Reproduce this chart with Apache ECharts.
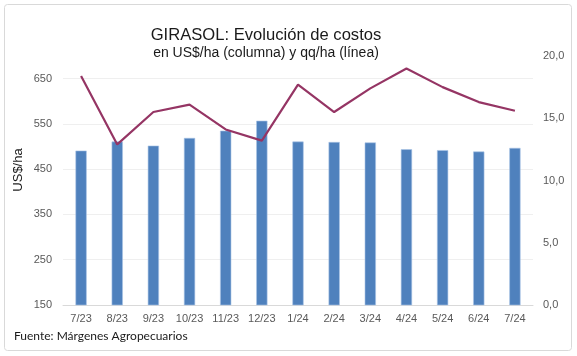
<!DOCTYPE html>
<html>
<head>
<meta charset="utf-8">
<script src="https://cdn.jsdelivr.net/npm/echarts@6/dist/echarts.min.js"></script>
<style>
html,body{margin:0;padding:0;background:#fff;}
#c{width:577px;height:356px;}
</style>
</head>
<body>
<div id="c"></div>
<script>
var categories = ['7/23','8/23','9/23','10/23','11/23','12/23','1/24','2/24','3/24','4/24','5/24','6/24','7/24'];
var costUSD = [491, 511, 502, 519, 535, 557, 511, 510, 509, 494, 492, 489, 497];
var yieldQQ = [18.4, 12.9, 15.5, 16.1, 14.1, 13.2, 17.7, 15.5, 17.4, 19.0, 17.5, 16.3, 15.6];
var leftTicks = [150, 250, 350, 450, 550, 650];

var chart = echarts.init(document.getElementById('c'), null, {renderer: 'canvas'});
var font = 'Liberation Sans, Arial, sans-serif';
chart.setOption({
  animation: false,
  textStyle: {fontFamily: font},
  graphic: [
    {type: 'rect', shape: {x: 4.5, y: 4.5, width: 567, height: 346, r: 3}, style: {fill: 'none', stroke: '#d9d9d9', lineWidth: 1}, z: -1},
    {type: 'text', left: 14, top: 330, style: {text: 'Fuente: Márgenes Agropecuarios', font: '12px Lato, "Open Sans", sans-serif', fill: '#1a1a1a'}},
    {type: 'text', x: 18, y: 170, rotation: Math.PI / 2,
     style: {text: 'US$/ha', font: '13px "Liberation Sans", Arial, sans-serif', fill: '#1a1a1a', align: 'center', verticalAlign: 'middle'}}
  ],
  title: {
    text: 'GIRASOL: Evolución de costos',
    subtext: 'en US$/ha (columna) y qq/ha (línea)',
    left: 261, textAlign: 'center', top: 22, itemGap: 2,
    textStyle: {fontFamily: font, fontSize: 16.6, fontWeight: 'normal', color: '#1a1a1a'},
    subtextStyle: {fontFamily: font, fontSize: 14, color: '#1a1a1a'}
  },
  grid: {left: 63, right: 44, top: 56, bottom: 51},
  xAxis: {
    type: 'category', data: categories,
    axisLine: {lineStyle: {color: '#d9d9d9'}},
    axisTick: {show: false},
    axisLabel: {color: '#595959', fontSize: 11, margin: 8, fontFamily: font}
  },
  yAxis: [
    {
      type: 'value', min: 150, max: 700, interval: 50,
      axisLine: {show: false}, axisTick: {show: false},
      axisLabel: {color: '#595959', fontSize: 11, margin: 11, fontFamily: font,
        formatter: function (v) { return leftTicks.indexOf(v) >= 0 ? String(v) : ''; }},
      splitLine: {show: true, lineStyle: {color: ['#efefef', 'rgba(0,0,0,0)'], width: 1}}
    },
    {
      type: 'value', min: 0, max: 20, interval: 5, position: 'right',
      axisLine: {show: false}, axisTick: {show: false},
      splitLine: {show: false},
      axisLabel: {color: '#595959', fontSize: 11, margin: 10, fontFamily: font,
        formatter: function (v) { return v.toFixed(1).replace('.', ','); }}
    }
  ],
  series: [
    {
      type: 'bar', data: costUSD, yAxisIndex: 0, barWidth: '31%',
      itemStyle: {color: '#4f81bd', borderColor: '#a9c4e6', borderWidth: 0.6}
    },
    {
      type: 'line', data: yieldQQ, yAxisIndex: 1, symbol: 'none',
      lineStyle: {color: '#953564', width: 2.2}
    }
  ]
});
</script>
</body>
</html>
